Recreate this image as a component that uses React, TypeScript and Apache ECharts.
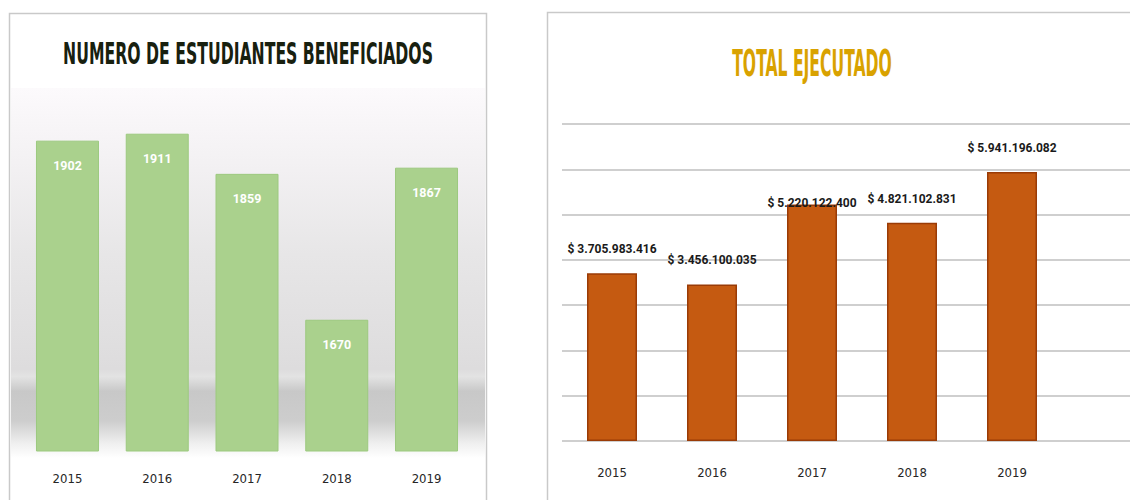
import React, { useEffect, useRef } from "react";
import * as echarts from "echarts";

const years = ["2015", "2016", "2017", "2018", "2019"];
const students = [1902, 1911, 1859, 1670, 1867];
const totals = [3705983416, 3456100035, 5220122400, 4821102831, 5941196082];
const leftTitle = "NUMERO DE ESTUDIANTES BENEFICIADOS";
const rightTitle = "TOTAL EJECUTADO";

const NARROW = '"DejaVu Sans Condensed", "Liberation Sans Narrow", sans-serif';
const LABEL = 'Roboto, "DejaVu Sans Condensed", sans-serif';

const fmtMoney = (v: number) => "$ " + String(v).replace(/\B(?=(\d{3})+(?!\d))/g, ".");

export default function App() {
  const ref = useRef<HTMLDivElement>(null);
  useEffect(() => {
    if (!ref.current) return;
    const chart = echarts.init(ref.current, null, { renderer: "svg" });
    const option: any = {
      animation: false,
      backgroundColor: "#ffffff",
      graphic: [
        {
          type: "rect",
          z: -20,
          shape: { x: 9.5, y: 13.5, width: 477, height: 500 },
          style: { fill: "#ffffff", stroke: "#c9c9c9", lineWidth: 1.5 },
          silent: true,
        },
        {
          type: "rect",
          z: -19,
          shape: { x: 11, y: 88, width: 474, height: 370 },
          style: {
            fill: new echarts.graphic.LinearGradient(0, 0, 0, 1, [
              { offset: 0, color: "#fcfafc" },
              { offset: 0.2, color: "#f3f1f3" },
              { offset: 0.45, color: "#e7e6e7" },
              { offset: 0.76, color: "#dddcdd" },
              { offset: 0.78, color: "#e3e3e3" },
              { offset: 0.82, color: "#c8c8c8" },
              { offset: 0.9, color: "#cdcdcd" },
              { offset: 0.96, color: "#efefef" },
              { offset: 1, color: "#ffffff" },
            ]),
          },
          silent: true,
        },
        {
          type: "rect",
          z: -20,
          shape: { x: 547.5, y: 12.5, width: 620, height: 500 },
          style: { fill: "#ffffff", stroke: "#c9c9c9", lineWidth: 1.5 },
          silent: true,
        },
        {
          type: "text",
          x: 248,
          y: 54,
          scaleX: 0.83,
          scaleY: 1.45,
          style: {
            text: leftTitle,
            fontSize: 21,
            fontWeight: "bold",
            fontFamily: NARROW,
            fill: "#18200f",
            textAlign: "center",
            textVerticalAlign: "middle",
          },
        },
        {
          type: "text",
          x: 812,
          y: 63,
          scaleX: 0.89,
          scaleY: 1.95,
          style: {
            text: rightTitle,
            fontSize: 19.5,
            fontWeight: "bold",
            fontFamily: NARROW,
            fill: "#d9a200",
            textAlign: "center",
            textVerticalAlign: "middle",
          },
        },
      ],
      grid: [
        { left: 22.6, width: 448.8, top: 65, height: 386, outerBoundsMode: "none" },
        { left: 562, width: 500, top: 124, height: 317, outerBoundsMode: "none" },
        { left: 562, width: 580, top: 124, height: 317, outerBoundsMode: "none" },
      ],
      xAxis: [
        {
          type: "category",
          gridIndex: 0,
          data: years,
          axisLine: { show: false },
          axisTick: { show: false },
          axisLabel: { color: "#262626", fontSize: 13, fontFamily: NARROW, margin: 21 },
        },
        {
          type: "category",
          gridIndex: 1,
          data: years,
          axisLine: { show: false },
          axisTick: { show: false },
          axisLabel: { color: "#262626", fontSize: 13, fontFamily: NARROW, margin: 25 },
        },
        { type: "value", gridIndex: 2, show: false },
      ],
      yAxis: [
        { type: "value", gridIndex: 0, min: 1500, max: 2000, show: false },
        { type: "value", gridIndex: 1, min: 0, max: 7000000000, interval: 1000000000, show: false },
        {
          type: "value",
          gridIndex: 2,
          min: 0,
          max: 7000000000,
          interval: 1000000000,
          axisLine: { show: false },
          axisTick: { show: false },
          axisLabel: { show: false },
          splitLine: { show: true, lineStyle: { color: "#cfcfcf", width: 2 } },
        },
      ],
      series: [
        {
          type: "bar",
          xAxisIndex: 0,
          yAxisIndex: 0,
          data: students,
          barWidth: 63,
          itemStyle: { color: "#aad18d", borderColor: "#9cc97f", borderWidth: 1 },
          label: {
            show: true,
            position: "insideTop",
            distance: 18,
            color: "#ffffff",
            fontSize: 12.5,
            fontWeight: "bold",
            fontFamily: LABEL,
          },
        },
        {
          type: "bar",
          xAxisIndex: 1,
          yAxisIndex: 1,
          data: totals.map((v, i) => (i === 2 ? { value: v, label: { distance: -4 } } : v)),
          barWidth: 50,
          itemStyle: { color: "#c55a11", borderColor: "#9a3b06", borderWidth: 1.5 },
          label: {
            show: true,
            position: "top",
            distance: 18,
            color: "#1a1a1a",
            fontSize: 12,
            fontWeight: "bold",
            fontFamily: LABEL,
            formatter: (p: any) => fmtMoney(p.value),
          },
        },
      ],
    };
    chart.setOption(option);
    return () => chart.dispose();
  }, []);
  return (
    <div
      ref={ref}
      style={{ position: "absolute", left: 0, top: 0, width: 1130, height: 500 }}
    />
  );
}
